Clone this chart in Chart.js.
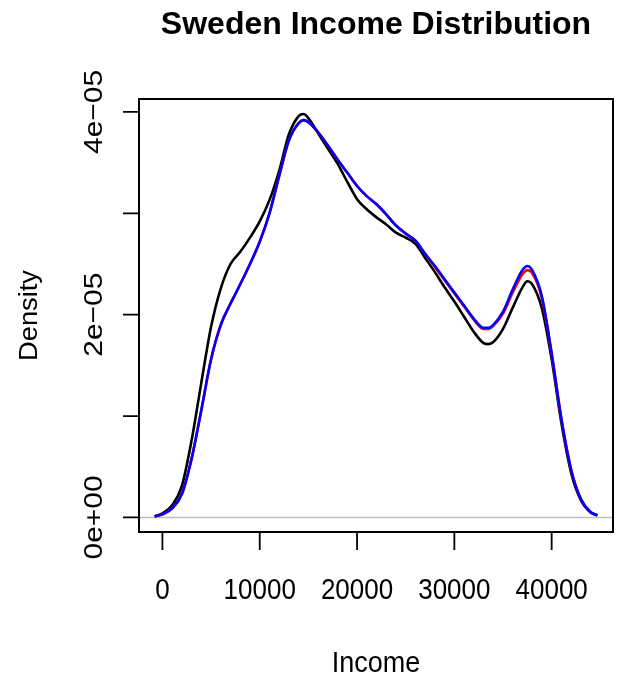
<!DOCTYPE html>
<html>
<head>
<meta charset="utf-8">
<script src="https://cdn.jsdelivr.net/npm/chart.js@4"></script>
<style>
  html, body { margin: 0; padding: 0; background: #fff; }
  canvas { display: block; }
</style>
</head>
<body>
<canvas id="densityChart" width="620" height="679"></canvas>
<script>
// Densidad de ingresos (valores en unidades de 1e-05)
const income = [-800, 0, 1000, 2000, 3000, 4000, 5000, 6000, 7000, 8000, 9000, 10000,
  11000, 12000, 13000, 14000, 14500, 15000, 16000, 17000, 18000, 19000, 20000, 21000,
  22000, 23000, 24000, 25000, 26000, 27000, 28000, 29000, 30000, 31000, 32000, 33000,
  33500, 34000, 35000, 36000, 37000, 37500, 38000, 39000, 40000, 41000, 42000, 43000,
  44000, 44700];

const densityBlack = [0.01, 0.04, 0.12, 0.31, 0.76, 1.33, 1.88, 2.26, 2.50, 2.62, 2.76, 2.92,
  3.13, 3.42, 3.78, 3.96, 3.98, 3.94, 3.79, 3.64, 3.49, 3.31, 3.14, 3.04,
  2.96, 2.89, 2.81, 2.76, 2.70, 2.56, 2.42, 2.27, 2.13, 1.98, 1.83, 1.72,
  1.71, 1.73, 1.86, 2.07, 2.27, 2.33, 2.30, 2.06, 1.56, 0.93, 0.44, 0.17,
  0.05, 0.02];

const densityRed = [0.01, 0.03, 0.09, 0.23, 0.58, 1.06, 1.56, 1.90, 2.11, 2.30, 2.50, 2.72,
  3.00, 3.37, 3.72, 3.89, 3.92, 3.90, 3.80, 3.67, 3.53, 3.40, 3.27, 3.17,
  3.09, 2.99, 2.88, 2.80, 2.73, 2.60, 2.47, 2.34, 2.21, 2.08, 1.95, 1.86,
  1.86, 1.89, 2.01, 2.22, 2.40, 2.44, 2.41, 2.16, 1.61, 0.97, 0.47, 0.18,
  0.05, 0.02];

const densityBlue = [0.01, 0.03, 0.09, 0.23, 0.58, 1.06, 1.56, 1.90, 2.11, 2.30, 2.50, 2.72,
  3.00, 3.37, 3.72, 3.89, 3.92, 3.90, 3.80, 3.67, 3.53, 3.40, 3.27, 3.17,
  3.09, 2.99, 2.88, 2.80, 2.73, 2.60, 2.48, 2.35, 2.22, 2.09, 1.96, 1.87,
  1.87, 1.90, 2.03, 2.25, 2.44, 2.48, 2.44, 2.18, 1.62, 0.97, 0.47, 0.18,
  0.05, 0.02];

const xTicks = [0, 10000, 20000, 30000, 40000];
const xTickLabels = ['0', '10000', '20000', '30000', '40000'];
const yTicks = [0, 1, 2, 3, 4];
const yTickLabels = ['0e+00', '', '2e\u221205', '', '4e\u221205'];

const FONT = '"Liberation Sans", Arial, Helvetica, sans-serif';

function toPoints(ys) {
  return income.map((x, i) => ({ x: x, y: ys[i] }));
}

function drawText(ctx, text, x, y, font, sx, sy, rotated) {
  ctx.save();
  ctx.translate(x, y);
  if (rotated) ctx.rotate(-Math.PI / 2);
  ctx.scale(sx, sy);
  ctx.font = font;
  ctx.fillStyle = '#000';
  ctx.textAlign = 'center';
  ctx.textBaseline = 'alphabetic';
  ctx.fillText(text, 0, 0);
  ctx.restore();
}

// Ejes al estilo de R base
const rAxes = {
  id: 'rAxes',
  beforeDatasetsDraw(chart) {
    const { ctx, chartArea: a, scales } = chart;
    const y0 = scales.y.getPixelForValue(0);
    ctx.save();
    ctx.strokeStyle = '#bebebe';
    ctx.lineWidth = 1.5;
    ctx.beginPath();
    ctx.moveTo(a.left, y0);
    ctx.lineTo(a.right, y0);
    ctx.stroke();
    ctx.restore();
  },
  afterDraw(chart) {
    const { ctx, chartArea: a, scales } = chart;
    ctx.save();
    ctx.strokeStyle = '#000';
    ctx.lineWidth = 2;
    ctx.strokeRect(a.left, a.top, a.right - a.left, a.bottom - a.top);

    ctx.lineWidth = 1.8;
    ctx.beginPath();
    xTicks.forEach(v => {
      const px = scales.x.getPixelForValue(v);
      ctx.moveTo(px, a.bottom);
      ctx.lineTo(px, a.bottom + 18);
    });
    yTicks.forEach(v => {
      const py = scales.y.getPixelForValue(v);
      ctx.moveTo(a.left, py);
      ctx.lineTo(a.left - 16, py);
    });
    ctx.stroke();
    ctx.restore();

    xTicks.forEach((v, i) => {
      drawText(ctx, xTickLabels[i], scales.x.getPixelForValue(v), 598.5,
        '26px ' + FONT, 1, 1.13, false);
    });
    yTicks.forEach((v, i) => {
      if (!yTickLabels[i]) return;
      drawText(ctx, yTickLabels[i], 101.7, scales.y.getPixelForValue(v),
        '26px ' + FONT, 1.15, 1, true);
    });

    const cx = (a.left + a.right) / 2;
    const cy = (a.top + a.bottom) / 2;
    drawText(ctx, 'Sweden Income Distribution', cx, 33.5, 'bold 32px ' + FONT, 1.0, 0.97, false);
    drawText(ctx, 'Income', cx, 671.5, '27px ' + FONT, 1, 1.1, false);
    drawText(ctx, 'Density', 37, cy, '26px ' + FONT, 1.05, 1, true);
  }
};

document.addEventListener('DOMContentLoaded', function () {
  const ctx = document.getElementById('densityChart');

  const lineStyle = {
    borderWidth: 2.6,
    pointRadius: 0,
    fill: false,
    cubicInterpolationMode: 'monotone'
  };

  new Chart(ctx, {
    type: 'line',
    data: {
      datasets: [
        Object.assign({ label: 'blue', data: toPoints(densityBlue), borderColor: '#0000ff' }, lineStyle),
        Object.assign({ label: 'red', data: toPoints(densityRed), borderColor: '#ff0000' }, lineStyle),
        Object.assign({ label: 'black', data: toPoints(densityBlack), borderColor: '#000000' }, lineStyle)
      ]
    },
    options: {
      responsive: false,
      animation: false,
      devicePixelRatio: 1,
      layout: { padding: { left: 139, top: 99, right: 7, bottom: 147 } },
      plugins: {
        legend: { display: false },
        tooltip: { enabled: false },
        title: { display: false }
      },
      scales: {
        x: { type: 'linear', min: -2406, max: 46303, display: false },
        y: { type: 'linear', min: -0.144, max: 4.128, display: false }
      }
    },
    plugins: [rAxes]
  });
});
</script>
</body>
</html>
